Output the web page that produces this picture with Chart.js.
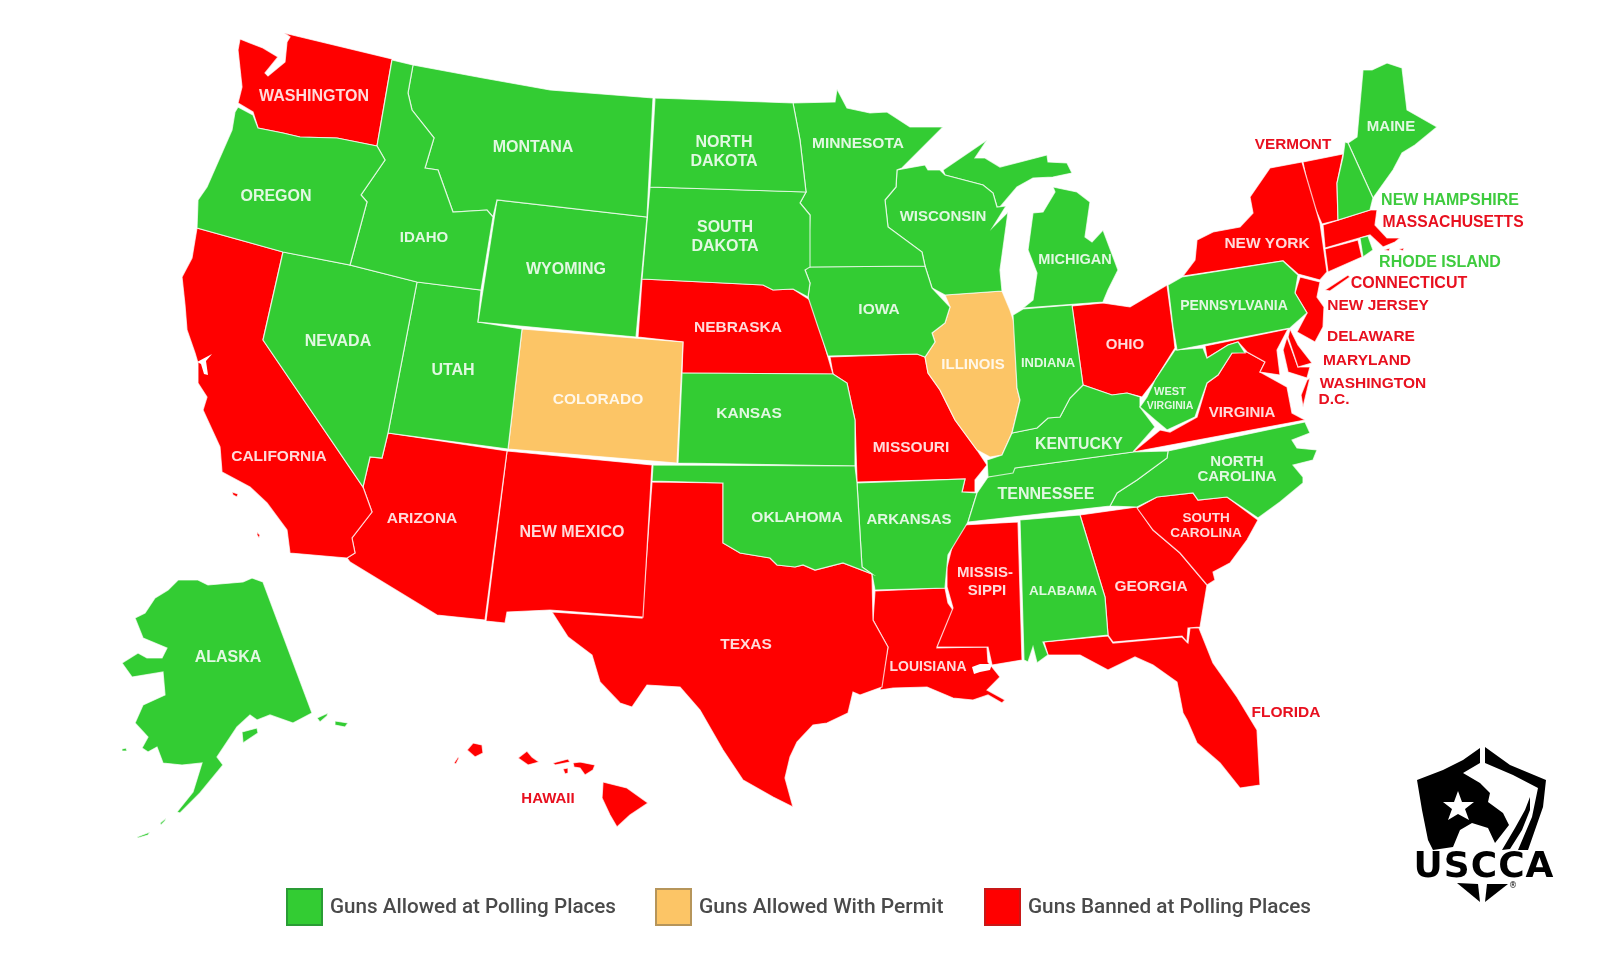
<!DOCTYPE html>
<html>
<head>
<meta charset="utf-8">
<title>Guns at Polling Places</title>
<script src="https://cdn.jsdelivr.net/npm/chart.js@4/dist/chart.umd.min.js"></script>
<style>
  html, body { margin: 0; padding: 0; background: #fff; }
  canvas { display: block; filter: blur(0.55px); }
</style>
</head>
<body>
<canvas id="map" width="1600" height="954"></canvas>
<script>
// State outlines, on the map's own x/y axes
var washington = [[240,39],[250,43],[263,48],[278,57],[265,73],[268,76],[285,62],[287,42],[290,37],[284,33],[392,59],[377,146],[337,138],[300,137],[283,133],[258,128],[253,112],[238,103],[242,87],[238,50]];
var oregon = [[238,107],[253,115],[258,128],[283,133],[300,137],[337,138],[377,146],[385,160],[361,195],[367,202],[350,265],[283,252],[197,228],[198,200],[207,187],[232,130],[235,112]];
var idaho = [[392,60],[413,65],[408,93],[412,110],[434,138],[425,168],[438,170],[453,212],[487,210],[493,217],[481,290],[417,282],[350,265],[367,202],[361,195],[385,160],[377,146]];
var montana = [[413,65],[483,78],[550,90],[653,98],[647,217],[497,200],[493,217],[487,210],[453,212],[438,170],[425,168],[434,138],[412,110],[408,93]];
var wyoming = [[497,200],[647,217],[636,337],[478,322]];
var nevada = [[283,252],[350,265],[417,282],[388,433],[382,458],[370,457],[363,487],[263,340]];
var utah = [[417,282],[481,290],[478,322],[522,329],[508,449],[388,433]];
var colorado = [[522,329],[683,342],[677,463],[508,449]];
var california = [[197,228],[283,252],[263,340],[363,487],[372,512],[352,538],[355,553],[347,558],[290,553],[287,530],[267,503],[250,487],[222,472],[220,447],[203,410],[207,397],[198,383],[198,363],[195,353],[187,330],[185,305],[182,277],[192,258]];
var arizona = [[388,433],[507,451],[485,620],[437,615],[350,562],[347,558],[355,553],[352,538],[372,512],[363,487],[370,457],[382,458]];
var newMexico = [[507,451],[652,465],[643,617],[550,610],[507,612],[505,623],[486,621]];
var texas = [[652,482],[723,483],[723,543],[740,553],[770,558],[777,565],[795,567],[803,565],[815,570],[843,563],[872,574],[873,620],[888,647],[882,687],[860,695],[853,692],[848,713],[827,723],[813,725],[797,742],[790,757],[785,778],[793,807],[773,797],[743,780],[723,750],[700,710],[680,687],[647,685],[632,707],[620,703],[600,682],[592,655],[568,637],[552,612],[642,618]];
var oklahoma = [[653,465],[855,466],[857,483],[862,567],[872,574],[843,563],[815,570],[803,565],[795,567],[777,565],[770,558],[740,553],[723,543],[723,483],[652,481]];
var kansas = [[682,373],[833,374],[847,383],[855,420],[855,466],[678,463]];
var nebraska = [[642,279],[763,285],[773,290],[793,289],[810,300],[823,340],[833,374],[682,373],[683,342],[638,337]];
var northDakota = [[655,98],[793,103],[800,140],[806,192],[650,187]];
var southDakota = [[650,187],[806,192],[800,203],[810,215],[810,267],[805,270],[810,283],[808,297],[793,289],[773,290],[763,285],[642,279]];
var minnesota = [[793,103],[835,102],[837,89],[847,108],[870,113],[887,112],[910,127],[943,127],[902,168],[897,170],[896,187],[885,200],[888,227],[922,252],[925,266],[808,267],[810,215],[800,203],[806,192],[800,140]];
var iowa = [[808,267],[925,266],[932,288],[950,307],[945,323],[932,333],[935,342],[925,357],[917,354],[828,356],[818,327],[808,297],[810,283],[805,270]];
var wisconsin = [[897,170],[925,165],[928,170],[940,170],[945,175],[983,185],[993,193],[997,207],[1006,206],[993,227],[1008,212],[1000,270],[1002,291],[945,295],[932,288],[925,266],[922,252],[888,227],[885,200],[896,187]];
var michiganUpper = [[943,170],[987,140],[975,158],[985,158],[1000,167],[1020,162],[1047,155],[1048,162],[1067,163],[1072,173],[1053,177],[1033,178],[1017,187],[1000,207],[997,207],[993,193],[983,185],[945,175]];
var michiganLower = [[1053,187],[1077,192],[1090,202],[1085,237],[1092,242],[1103,230],[1118,270],[1108,290],[1103,302],[1023,308],[1033,300],[1037,273],[1028,250],[1033,213],[1043,212],[1055,192]];
var illinois = [[945,295],[1002,291],[1010,310],[1015,325],[1017,388],[1020,400],[1012,433],[1002,455],[990,457],[977,450],[955,420],[940,390],[928,373],[925,357],[935,342],[932,333],[945,323],[950,307]];
var indiana = [[1013,315],[1023,309],[1072,305],[1083,385],[1070,398],[1060,417],[1048,418],[1037,428],[1012,433],[1020,400],[1017,388]];
var ohio = [[1072,306],[1103,303],[1130,307],[1167,285],[1173,330],[1175,348],[1155,380],[1142,397],[1127,393],[1112,395],[1083,385]];
var pennsylvania = [[1168,285],[1182,277],[1283,261],[1298,275],[1295,293],[1307,313],[1290,328],[1177,350],[1173,327]];
var newYork = [[1183,276],[1195,260],[1197,240],[1213,232],[1240,227],[1253,213],[1250,197],[1270,168],[1302,162],[1320,223],[1327,272],[1320,280],[1298,274],[1283,261]];
var longIsland = [[1325,290],[1348,275],[1350,277],[1330,291]];
var vermont = [[1303,162],[1343,154],[1337,183],[1338,220],[1322,224],[1310,197]];
var newHampshire = [[1345,142],[1348,143],[1373,198],[1370,210],[1338,220],[1337,183],[1343,157]];
var maine = [[1348,143],[1357,137],[1363,70],[1372,70],[1387,63],[1402,68],[1407,110],[1437,127],[1415,145],[1402,153],[1393,170],[1373,198]];
var massachusetts = [[1323,225],[1370,210],[1377,210],[1375,225],[1387,238],[1400,238],[1395,242],[1383,247],[1370,235],[1325,248]];
var connecticut = [[1325,249],[1358,240],[1362,257],[1328,272]];
var rhodeIsland = [[1360,238],[1368,236],[1373,250],[1363,257]];
var newJersey = [[1300,277],[1320,282],[1317,297],[1324,307],[1323,327],[1315,342],[1297,332],[1307,313],[1295,293]];
var delaware = [[1290,329],[1298,345],[1312,363],[1298,367],[1288,337]];
var marylandWest = [[1205,346],[1288,329],[1277,350],[1280,375],[1260,372],[1265,362],[1247,352],[1238,342],[1228,345],[1207,358]];
var marylandEast = [[1287,337],[1298,367],[1310,367],[1307,378],[1288,372],[1283,350]];
var virginiaShore = [[1307,380],[1310,378],[1303,407],[1301,395]];
var virginia = [[1232,353],[1247,352],[1265,362],[1260,372],[1287,387],[1292,413],[1305,420],[1133,452],[1160,430],[1170,432],[1197,417],[1207,383],[1218,375]];
var westVirginia = [[1175,350],[1203,348],[1207,358],[1228,345],[1238,342],[1245,353],[1232,353],[1218,375],[1207,383],[1195,417],[1167,430],[1155,420],[1140,407],[1147,397],[1155,380]];
var kentucky = [[1012,433],[1037,428],[1048,418],[1060,417],[1070,398],[1083,385],[1112,395],[1127,393],[1140,397],[1140,407],[1155,427],[1133,452],[1015,468],[1013,473],[988,477],[987,460],[1002,455]];
var tennessee = [[988,477],[1015,468],[1133,452],[1168,451],[1167,458],[1137,480],[1117,493],[1110,506],[968,522],[977,493]];
var northCarolina = [[1168,451],[1305,422],[1310,433],[1292,440],[1297,448],[1317,450],[1313,460],[1293,465],[1303,477],[1303,483],[1280,502],[1258,518],[1227,497],[1198,500],[1193,493],[1157,497],[1137,507],[1110,506],[1117,493],[1137,480],[1167,458]];
var southCarolina = [[1137,508],[1157,497],[1193,493],[1198,500],[1227,497],[1258,520],[1247,540],[1230,563],[1213,572],[1215,580],[1207,585],[1180,553],[1153,530]];
var georgia = [[1080,515],[1137,507],[1153,530],[1180,553],[1207,585],[1200,627],[1188,628],[1187,642],[1182,636],[1113,642],[1108,635],[1105,597]];
var alabama = [[1020,520],[1080,515],[1105,597],[1108,635],[1043,642],[1048,655],[1037,663],[1033,647],[1028,662],[1024,660]];
var florida = [[1044,642],[1108,636],[1113,643],[1182,637],[1188,643],[1190,628],[1199,628],[1213,663],[1237,697],[1257,730],[1260,785],[1240,788],[1220,763],[1197,743],[1187,720],[1183,713],[1177,682],[1153,665],[1135,657],[1108,670],[1080,655],[1048,655]];
var mississippi = [[963,525],[1018,522],[1022,660],[992,665],[988,647],[937,647],[953,608],[947,587],[947,567],[953,543]];
var louisiana = [[875,591],[945,588],[948,603],[953,610],[937,648],[987,647],[988,662],[992,667],[1000,677],[987,690],[1005,700],[1002,703],[988,695],[973,700],[953,698],[927,687],[893,688],[880,690],[888,647],[873,620]];
var arkansas = [[857,483],[965,479],[962,492],[977,493],[968,522],[957,540],[948,555],[945,588],[875,590],[872,574],[862,567]];
var missouri = [[830,357],[917,354],[925,357],[928,373],[940,390],[955,420],[977,450],[987,465],[975,480],[975,492],[962,492],[965,479],[857,482],[855,420],[847,383],[833,374]];
var alaska = [[178,580],[198,580],[208,585],[243,582],[252,578],[263,582],[312,713],[293,723],[270,715],[257,720],[250,715],[237,727],[217,757],[223,765],[200,793],[180,813],[177,812],[193,792],[202,763],[182,765],[163,763],[157,747],[148,752],[142,748],[148,737],[135,723],[143,705],[165,695],[163,672],[132,677],[122,663],[138,653],[147,658],[162,658],[167,648],[143,638],[135,618],[145,613],[155,598],[168,590]];
var kodiak = [[242,732],[257,728],[258,733],[243,743]];
var alaskaIslandA = [[317,718],[328,713],[327,716],[320,722]];
var alaskaIslandB = [[335,721],[348,723],[345,727],[335,725]];
var alaskaIslandC = [[122,749],[126,748],[127,751],[122,751]];
var aleutianA = [[160,823],[166,818],[165,821],[161,825]];
var aleutianB = [[137,837],[150,832],[148,835],[138,838]];
var kauai = [[467,750],[473,743],[482,745],[483,753],[475,757]];
var niihau = [[454,763],[458,757],[459,758],[456,764]];
var oahu = [[518,758],[527,751],[532,757],[539,762],[528,765]];
var molokai = [[553,763],[568,759],[570,762],[555,765]];
var lanai = [[563,769],[568,768],[568,773],[565,774]];
var maui = [[573,763],[580,762],[595,765],[593,770],[585,775],[580,768],[574,767]];
var bigIsland = [[603,782],[627,788],[648,803],[630,815],[617,827],[610,815],[602,798]];
var santaCruz = [[232,492],[238,494],[237,497],[233,495]];
var catalina = [[257,532],[260,535],[259,538],[257,535]];
var nantucket = [[1384,250],[1390,248],[1389,251]];
var marthasVineyard = [[1399,249],[1404,248],[1403,251]];

// White water that cuts into a state
var lakePontchartrain = [[972,667],[980,664],[992,664],[990,670],[980,672],[974,674]];
var sanFranciscoBay = [[197,362],[212,354],[206,361],[208,375],[204,374],[201,364]];

// Who goes in which group
var allowedStates = [oregon, idaho, montana, wyoming, nevada, utah, oklahoma, kansas, northDakota, southDakota, minnesota, iowa, wisconsin, michiganUpper, michiganLower, indiana, pennsylvania, newHampshire, maine, rhodeIsland, westVirginia, kentucky, tennessee, northCarolina, alabama, arkansas, alaska, kodiak, alaskaIslandA, alaskaIslandB, alaskaIslandC, aleutianA, aleutianB];
var permitStates = [colorado, illinois];
var bannedStates = [washington, california, arizona, newMexico, texas, nebraska, ohio, newYork, longIsland, vermont, massachusetts, connecticut, newJersey, delaware, marylandWest, marylandEast, virginiaShore, virginia, southCarolina, georgia, florida, mississippi, louisiana, missouri, kauai, niihau, oahu, molokai, lanai, maui, bigIsland, santaCruz, catalina, nantucket, marthasVineyard];

// Logo shapes
var logoLeft = [[1417,780],[1443,770],[1463,760],[1480,748],[1480,763],[1463,773],[1480,783],[1490,793],[1488,802],[1503,813],[1509,825],[1495,843],[1488,828],[1472,823],[1460,830],[1453,847],[1433,850],[1428,840],[1422,810]];
var logoRight = [[1485,747],[1510,765],[1546,780],[1543,807],[1528,850],[1518,850],[1532,817],[1538,788],[1513,775],[1485,763]];
var logoSlash = [[1530,797],[1525,810],[1515,828],[1502,850],[1510,849],[1522,830],[1530,810]];
var logoStar = [[1458,791],[1462,802],[1474,802],[1465,809],[1469,820],[1458,814],[1448,820],[1452,809],[1443,802],[1454,802]];
var logoTipLeft = [[1457,883],[1478,884],[1480,902]];
var logoTipRight = [[1485,902],[1487,884],[1508,884]];

// Text on the map: text, x, y, font size
var whiteLabels = [
    ['WASHINGTON',314,97,16],['OREGON',276,197,16],['IDAHO',424,238,15],['MONTANA',533,148,16],['WYOMING',566,270,16],
    ['NEVADA',338,342,16],['UTAH',453,371,16],['COLORADO',598,400,15.5],['CALIFORNIA',279,457,15.5],['ARIZONA',422,519,15.5],
    ['NEW MEXICO',572,533,16],['NORTH',724,143,16],['DAKOTA',724,162,16],['SOUTH',725,228,16],['DAKOTA',725,247,16],
    ['MINNESOTA',858,144,15.5],['WISCONSIN',943,217,15],['MICHIGAN',1075,260,14.5],['IOWA',879,310,15.5],['NEBRASKA',738,328,15.5],
    ['ILLINOIS',973,365,15],['INDIANA',1048,363,13],['MAINE',1391,127,15],['NEW YORK',1267,244,15.5],['PENNSYLVANIA',1234,306,14],
    ['OHIO',1125,345,15],['WEST',1170,392,11],['VIRGINIA',1170,406,10.5],['VIRGINIA',1242,413,15],['MISSOURI',911,448,15.5],
    ['KANSAS',749,414,15.5],['OKLAHOMA',797,518,15.5],['ARKANSAS',909,520,15],['TEXAS',746,645,15.5],['LOUISIANA',928,667,14],
    ['MISSIS-',985,573,15],['SIPPI',987,591,15],['KENTUCKY',1079,445,15.8],['TENNESSEE',1046,495,16],['NORTH',1237,462,15],
    ['CAROLINA',1237,477,15],['SOUTH',1206,518,13.5],['CAROLINA',1206,533,13.6],['ALABAMA',1063,591,13.5],['GEORGIA',1151,587,15.5],
    ['ALASKA',228,658,16]
];
var redLabels = [
    ['VERMONT',1293,145,15.3],['MASSACHUSETTS',1453,223,15.7],['CONNECTICUT',1409,284,16],['NEW JERSEY',1378,306,15.5],
    ['DELAWARE',1371,337,15.5],['MARYLAND',1367,361,15.5],['WASHINGTON',1373,384,15.5],['D.C.',1334,400,15.5],
    ['FLORIDA',1286,713,15.5],['HAWAII',548,799,15]
];
var greenLabels = [['NEW HAMPSHIRE',1450,201,16],['RHODE ISLAND',1440,263,16]];

// Legend
var legendLabels = ['Guns Allowed at Polling Places', 'Guns Allowed With Permit', 'Guns Banned at Polling Places'];
var legendSwatchX = [287, 656, 985];
var legendTextX = [330, 699, 1028];
var legendTextWidth = [286, 248, 283];

var green = '#33cc33', orange = '#fcc566', red = '#ff0000';
var legendColors = [green, orange, red];
var legendEdges = ['#2a9c35', '#b6955a', '#c81818'];

function shapeDataset(points, fillColor, edge) {
    var data = points.map(function(p) { return { x: p[0], y: p[1] }; });
    data.push(data[0]);
    return {
        data: data,
        showLine: true,
        fill: 'shape',
        backgroundColor: fillColor,
        borderColor: edge || 'rgba(255,255,255,0.72)',
        borderWidth: edge === fillColor ? 0 : 1.2,
        pointRadius: 0,
        tension: 0
    };
}

var datasets = [];
// first dataset ends up on top
[logoStar].forEach(function(s) { datasets.push(shapeDataset(s, '#fff', '#fff')); });
[logoLeft, logoRight, logoSlash, logoTipLeft, logoTipRight].forEach(function(s) { datasets.push(shapeDataset(s, '#000', '#000')); });
[lakePontchartrain, sanFranciscoBay].forEach(function(s) { datasets.push(shapeDataset(s, '#fff', '#fff')); });
allowedStates.forEach(function(s) { datasets.push(shapeDataset(s, green)); });
permitStates.forEach(function(s) { datasets.push(shapeDataset(s, orange)); });
bannedStates.forEach(function(s) { datasets.push(shapeDataset(s, red)); });

// Draws state names, the wordmark and the legend over the shapes
var mapText = {
    id: 'mapText',
    afterDatasetsDraw: function(chart) {
        var ctx = chart.ctx;
        var sx = chart.scales.x, sy = chart.scales.y;

        function put(list, color) {
            ctx.fillStyle = color;
            list.forEach(function(l) {
                ctx.font = 'bold ' + l[3] + 'px "Liberation Sans", Arial, sans-serif';
                ctx.fillText(l[0], sx.getPixelForValue(l[1]), sy.getPixelForValue(l[2]));
            });
        }

        ctx.save();
        ctx.textAlign = 'center';
        ctx.textBaseline = 'middle';
        put(whiteLabels, 'rgba(255,255,255,0.86)');
        put(redLabels, '#e8101f');
        put(greenLabels, '#3ecb3e');

        // wordmark
        ctx.fillStyle = '#000';
        ctx.font = 'bold 36px "DejaVu Sans", sans-serif';
        ctx.letterSpacing = '1px';
        ctx.fillText('USCCA', sx.getPixelForValue(1484), sy.getPixelForValue(868), 148);
        ctx.letterSpacing = '0px';
        ctx.font = '8px "DejaVu Sans", sans-serif';
        ctx.fillText('®', sx.getPixelForValue(1513), sy.getPixelForValue(886));

        // legend
        ctx.textAlign = 'left';
        legendLabels.forEach(function(text, i) {
            ctx.fillStyle = legendColors[i];
            ctx.strokeStyle = legendEdges[i];
            ctx.lineWidth = 2;
            ctx.fillRect(legendSwatchX[i], 889, 35, 36);
            ctx.strokeRect(legendSwatchX[i], 889, 35, 36);
            ctx.fillStyle = '#4a4a4a';
            ctx.font = '500 21px Roboto, sans-serif';
            ctx.fillText(text, legendTextX[i], 908, legendTextWidth[i]);
        });
        ctx.restore();
    }
};

new Chart(document.getElementById('map'), {
    type: 'scatter',
    data: { datasets: datasets },
    options: {
        responsive: false,
        animation: false,
        layout: { padding: 0 },
        scales: {
            x: { type: 'linear', min: 0, max: 1600, display: false },
            y: { type: 'linear', min: 0, max: 954, reverse: true, display: false }
        },
        plugins: {
            legend: { display: false },
            tooltip: { enabled: false }
        }
    },
    plugins: [mapText]
});
</script>
</body>
</html>
